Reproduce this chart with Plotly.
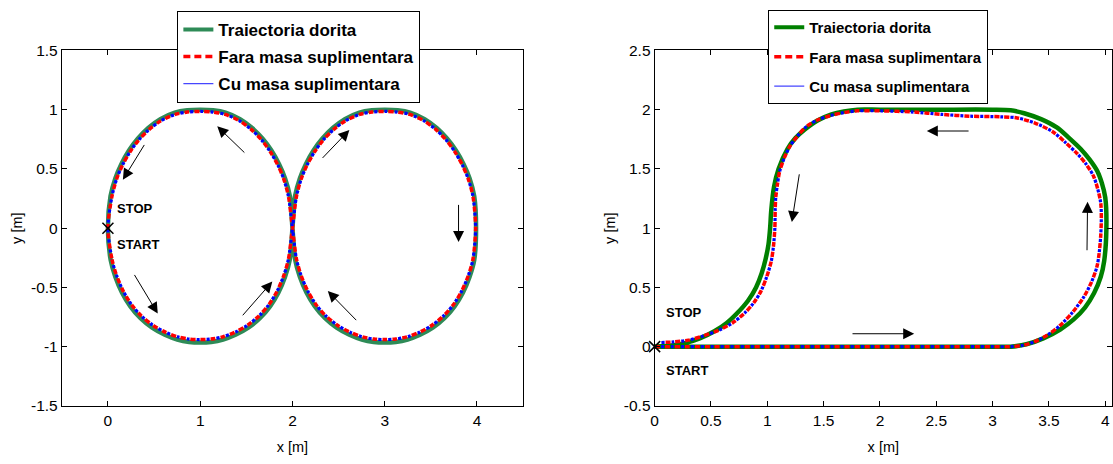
import plotly.graph_objects as go

# ---------------- data: figure-eight trajectory (left panel) ----------------
dorita8_x = [0, 0.03, 0.08, 0.153, 0.243, 0.353, 0.479, 0.617, 0.752, 0.88, 1.0, 1.12, 1.248, 1.383, 1.521,
             1.647, 1.757, 1.847, 1.92, 1.97, 2.0,
             2.028, 2.08, 2.145, 2.228, 2.325, 2.437, 2.568, 2.725, 2.86, 3.0, 3.14, 3.275, 3.432, 3.563,
             3.675, 3.772, 3.855, 3.92, 3.97, 3.99,
             3.97, 3.92, 3.847, 3.757, 3.647, 3.521, 3.383, 3.248, 3.12, 3.0, 2.88, 2.752, 2.617, 2.479,
             2.353, 2.243, 2.153, 2.08, 2.03, 2.0,
             1.972, 1.92, 1.855, 1.772, 1.675, 1.563, 1.432, 1.275, 1.14, 1.0, 0.86, 0.725, 0.568, 0.437,
             0.325, 0.228, 0.145, 0.08, 0.028, 0]
dorita8_y = [0, -0.27, -0.41, -0.545, -0.66, -0.76, -0.84, -0.90, -0.94, -0.96, -0.965, -0.96, -0.94, -0.90, -0.84,
             -0.76, -0.66, -0.545, -0.41, -0.27, 0,
             0.27, 0.42, 0.54, 0.655, 0.756, 0.845, 0.92, 0.975, 0.995, 1.0, 0.995, 0.975, 0.92, 0.845,
             0.756, 0.655, 0.54, 0.42, 0.27, 0,
             -0.27, -0.41, -0.545, -0.66, -0.76, -0.84, -0.90, -0.94, -0.96, -0.965, -0.96, -0.94, -0.90, -0.84,
             -0.76, -0.66, -0.545, -0.41, -0.27, 0,
             0.27, 0.42, 0.54, 0.655, 0.756, 0.845, 0.92, 0.975, 0.995, 1.0, 0.995, 0.975, 0.92, 0.845,
             0.756, 0.655, 0.54, 0.42, 0.27, 0]

fara8_x = [0, 0.044, 0.094, 0.166, 0.254, 0.363, 0.487, 0.623, 0.756, 0.882, 1.0, 1.118, 1.244, 1.377, 1.513,
           1.637, 1.746, 1.834, 1.906, 1.956, 2.0,
           2.043, 2.094, 2.158, 2.24, 2.335, 2.445, 2.574, 2.729, 2.862, 3.0, 3.138, 3.271, 3.426, 3.555,
           3.665, 3.76, 3.842, 3.906, 3.957, 3.985,
           3.956, 3.906, 3.834, 3.746, 3.637, 3.513, 3.377, 3.244, 3.118, 3.0, 2.882, 2.756, 2.623, 2.487,
           2.363, 2.254, 2.166, 2.094, 2.044, 2.0,
           1.957, 1.906, 1.842, 1.76, 1.665, 1.555, 1.426, 1.271, 1.138, 1.0, 0.862, 0.729, 0.574, 0.445,
           0.335, 0.24, 0.158, 0.094, 0.043, 0]
fara8_y = [0, -0.263, -0.40, -0.531, -0.644, -0.741, -0.819, -0.878, -0.917, -0.936, -0.94, -0.936, -0.917,
           -0.878, -0.819, -0.741, -0.644, -0.531, -0.40, -0.263, 0,
           0.266, 0.414, 0.532, 0.645, 0.745, 0.832, 0.906, 0.96, 0.98, 0.985, 0.98, 0.96, 0.906, 0.832,
           0.745, 0.645, 0.532, 0.414, 0.266, 0,
           -0.263, -0.40, -0.531, -0.644, -0.741, -0.819, -0.878, -0.917, -0.936, -0.94, -0.936, -0.917,
           -0.878, -0.819, -0.741, -0.644, -0.531, -0.40, -0.263, 0,
           0.266, 0.414, 0.532, 0.645, 0.745, 0.832, 0.906, 0.96, 0.98, 0.985, 0.98, 0.96, 0.906, 0.832,
           0.745, 0.645, 0.532, 0.414, 0.266, 0]

cu8_x = list(fara8_x)
cu8_y = list(fara8_y)

# ---------------- data: closed path (right panel) ----------------
dorita_x = [0, 0.5, 1.0, 1.5, 2.0, 2.5, 3.0, 3.16, 3.30, 3.45, 3.60, 3.72, 3.82, 3.90, 3.96, 3.99, 4.01, 4.0,
            3.97, 3.93, 3.86, 3.78, 3.68, 3.57, 3.43, 3.28, 3.16, 3.0, 2.5, 2.0, 1.80, 1.68, 1.57, 1.45,
            1.33, 1.25, 1.18, 1.10, 1.06, 1.035, 1.025, 1.01, 0.985, 0.95, 0.90, 0.83, 0.74, 0.64, 0.53,
            0.40, 0.27, 0.13, 0]
dorita_y = [0, 0, 0, 0, 0, 0, 0, 0, 0.02, 0.07, 0.145, 0.23, 0.33, 0.45, 0.59, 0.72, 0.99, 1.26,
            1.38, 1.48, 1.58, 1.67, 1.76, 1.85, 1.92, 1.97, 1.995, 2.0, 2.0, 2.0, 2.0, 1.985, 1.96, 1.91,
            1.83, 1.76, 1.67, 1.50, 1.35, 1.15, 1.0, 0.86, 0.74, 0.62, 0.50, 0.39, 0.29, 0.20, 0.13,
            0.07, 0.03, 0.008, 0]

fara_x = [0, 0.5, 1.0, 1.5, 2.0, 2.5, 3.0, 3.16, 3.27, 3.37, 3.49, 3.60, 3.71, 3.81, 3.88, 3.93, 3.96, 3.96,
          3.90, 3.83, 3.75, 3.65, 3.54, 3.38, 3.22, 3.07, 2.80, 2.55, 2.30, 2.0, 1.80, 1.68, 1.56, 1.45,
          1.35, 1.27, 1.20, 1.15, 1.11, 1.09, 1.075, 1.07, 1.067, 1.055, 1.035, 0.995, 0.947, 0.88, 0.80,
          0.69, 0.56, 0.43, 0.30, 0.17, 0.06]
fara_y = [0, 0, 0, 0, 0, 0, 0, 0, 0.012, 0.04, 0.10, 0.18, 0.29, 0.42, 0.55, 0.69, 0.94, 1.21,
          1.43, 1.54, 1.63, 1.72, 1.81, 1.885, 1.93, 1.94, 1.945, 1.96, 1.98, 1.99, 1.99, 1.975, 1.95, 1.915,
          1.86, 1.78, 1.69, 1.59, 1.48, 1.37, 1.26, 1.155, 1.0, 0.85, 0.72, 0.59, 0.475, 0.37, 0.285,
          0.20, 0.135, 0.09, 0.055, 0.04, 0.035]

cu_x = list(fara_x)
cu_y = list(fara_y)

# direction arrows: (tail x, tail y, head x, head y)
arrows_left = [(1.495, 0.626, 1.185, 0.859), (0.404, 0.715, 0.162, 0.409),
               (2.311, 0.58, 2.617, 0.829), (3.80, 0.209, 3.80, -0.116),
               (0.278, -0.382, 0.54, -0.721), (1.447, -0.748, 1.782, -0.45),
               (2.707, -0.789, 2.383, -0.531)]
arrows_right = [(2.80, 1.82, 2.416, 1.82), (1.286, 1.467, 1.218, 1.051),
                (3.838, 0.801, 3.843, 1.222), (1.743, 0.109, 2.304, 0.109)]

# STOP / START labels: (x, y)
labels_left = {"STOP": (0.08, 0.17), "START": (0.08, -0.14)}
labels_right = {"STOP": (0.08, 0.285), "START": (0.08, -0.2)}

names = ["Traiectoria dorita", "Fara masa suplimentara", "Cu masa suplimentara"]

x_ticks_left = [0, 1, 2, 3, 4]
y_ticks_left = [-1.5, -1, -0.5, 0, 0.5, 1, 1.5]
y_ticktext_left = ["-1.5", "-1", "-0.5", "0", "0.5", "1", "1.5"]
x_ticks_right = [0, 0.5, 1, 1.5, 2, 2.5, 3, 3.5, 4]
x_ticktext_right = ["0", "0.5", "1", "1.5", "2", "2.5", "3", "3.5", "4"]
y_ticks_right = [-0.5, 0, 0.5, 1, 1.5, 2, 2.5]
y_ticktext_right = ["-0.5", "0", "0.5", "1", "1.5", "2", "2.5"]

FONT = "Liberation Sans, Arial, sans-serif"
GREEN_L = "rgb(46,139,87)"
GREEN_R = "rgb(0,128,0)"
RED = "rgb(255,0,0)"
BLUE = "rgb(0,0,255)"

fig = go.Figure()


def add_paths(xa, ya, gx, gy, fx, fy, cx, cy, green, legend):
    fig.add_trace(go.Scatter(x=gx, y=gy, mode="lines",
                             line=dict(color=green, width=4.5, shape="spline", smoothing=0.8),
                             xaxis=xa, yaxis=ya, showlegend=False, hoverinfo="skip"))
    fig.add_trace(go.Scatter(x=fx, y=fy, mode="lines",
                             line=dict(color=RED, width=3.5, dash="5px,5px", shape="spline", smoothing=0.8),
                             xaxis=xa, yaxis=ya, showlegend=False, hoverinfo="skip"))
    fig.add_trace(go.Scatter(x=cx, y=cy, mode="lines",
                             line=dict(color=BLUE, width=3.2, dash="0px,6px,3px,1px", shape="spline",
                                       smoothing=0.8),
                             xaxis=xa, yaxis=ya, showlegend=False, hoverinfo="skip"))
    fig.add_trace(go.Scatter(x=[0], y=[0], mode="markers", cliponaxis=False,
                             marker=dict(symbol="x-thin", size=11, line=dict(color="black", width=1.5)),
                             xaxis=xa, yaxis=ya, showlegend=False, hoverinfo="skip"))
    # legend entries
    styles = [dict(color=green, width=4), dict(color=RED, width=3.5, dash="7px,4px"),
              dict(color="rgb(70,70,255)", width=1.2)]
    for i, (nm, st) in enumerate(zip(names, styles)):
        fig.add_trace(go.Scatter(x=[None], y=[None], mode="lines", name=nm, line=st,
                                 xaxis=xa, yaxis=ya, legend=legend, legendgroup=f"{legend}{i}"))


add_paths("x", "y", dorita8_x, dorita8_y, fara8_x, fara8_y, cu8_x, cu8_y, GREEN_L, "legend")
add_paths("x2", "y2", dorita_x, dorita_y, fara_x, fara_y, cu_x, cu_y, GREEN_R, "legend2")

annotations = []
for (tx, ty, hx, hy) in arrows_left:
    annotations.append(dict(x=hx, y=hy, ax=tx, ay=ty, xref="x", yref="y", axref="x", ayref="y",
                            text="", showarrow=True, arrowhead=2, arrowsize=2.2, arrowwidth=1,
                            arrowcolor="black"))
for (tx, ty, hx, hy) in arrows_right:
    annotations.append(dict(x=hx, y=hy, ax=tx, ay=ty, xref="x2", yref="y2", axref="x2", ayref="y2",
                            text="", showarrow=True, arrowhead=2, arrowsize=2.2, arrowwidth=1,
                            arrowcolor="black"))
for txt, (px, py) in labels_left.items():
    annotations.append(dict(x=px, y=py, xref="x", yref="y", text=f"<b>{txt}</b>", showarrow=False,
                            xanchor="left", yanchor="middle", font=dict(size=13, color="black", family=FONT)))
for txt, (px, py) in labels_right.items():
    annotations.append(dict(x=px, y=py, xref="x2", yref="y2", text=f"<b>{txt}</b>", showarrow=False,
                            xanchor="left", yanchor="middle", font=dict(size=13, color="black", family=FONT)))

axis_common = dict(showline=True, linecolor="black", linewidth=1, mirror="ticks", ticks="inside",
                   ticklen=5, tickcolor="black", showgrid=False, zeroline=False,
                   tickfont=dict(size=15.5, color="black", family=FONT))

Y_DOM = [1 - 412 / 464, 1 - 43 / 464]

fig.update_layout(
    width=1113, height=464,
    margin=dict(l=0, r=0, t=0, b=0),
    paper_bgcolor="white", plot_bgcolor="white",
    font=dict(family=FONT, color="black"),
    xaxis=dict(domain=[58 / 1113, 521 / 1113], range=[-0.5, 4.5], tickvals=x_ticks_left,
               ticktext=[str(v) for v in x_ticks_left],
               title=dict(text="x [m]", font=dict(size=14.5), standoff=14), **axis_common),
    yaxis=dict(domain=Y_DOM, range=[-1.5, 1.5], tickvals=y_ticks_left, ticktext=y_ticktext_left,
               title=dict(text="y [m]", font=dict(size=14.5), standoff=4), **axis_common),
    xaxis2=dict(domain=[653 / 1113, 1112 / 1113], range=[0, 4.06], tickvals=x_ticks_right,
                ticktext=x_ticktext_right, anchor="y2",
                title=dict(text="x [m]", font=dict(size=14.5), standoff=14), **axis_common),
    yaxis2=dict(domain=Y_DOM, range=[-0.5, 2.5], tickvals=y_ticks_right, ticktext=y_ticktext_right,
                anchor="x2", title=dict(text="y [m]", font=dict(size=14.5), standoff=4), **axis_common),
    legend=dict(x=174 / 1113, y=1 - 2 / 464, xanchor="left", yanchor="top", bgcolor="white",
                bordercolor="black", borderwidth=1, tracegroupgap=2,
                font=dict(size=17, family=FONT, color="black", weight="bold")),
    legend2=dict(x=767 / 1113, y=1 - 1 / 464, xanchor="left", yanchor="top", bgcolor="white",
                 bordercolor="black", borderwidth=1, tracegroupgap=7,
                 font=dict(size=15, family=FONT, color="black", weight="bold")),
    annotations=annotations,
)

fig.write_html("out.html")
